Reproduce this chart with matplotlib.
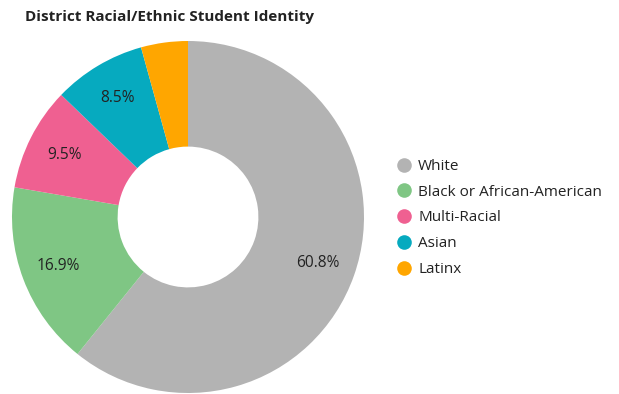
import matplotlib
matplotlib.use("Agg")
import matplotlib.pyplot as plt
from matplotlib.lines import Line2D

plt.rcParams['font.family'] = ['Open Sans', 'DejaVu Sans']

categories = ["White", "Black or African-American", "Multi-Racial", "Asian", "Latinx"]
shares = [60.8, 16.9, 9.5, 8.5, 4.3]
colors = ["#b3b3b3", "#7fc684", "#ef6091", "#06aabf", "#ffa600"]

W, H = 619, 394
fig = plt.figure(figsize=(W / 100, H / 100), dpi=100)

# donut axes: centre (188, 217) px, outer radius 176 px
cx, cy, r = 188, 217, 176
ax = fig.add_axes([(cx - r) / W, (H - cy - r) / H, 2 * r / W, 2 * r / H])


def fmt(p):
    return f"{p:.1f}%" if p >= 5 else ""


wedges, _, autotexts = ax.pie(
    shares, colors=colors, startangle=90, counterclock=False, radius=1.0,
    wedgeprops=dict(width=0.6, linewidth=0), autopct=fmt, pctdistance=0.785,
    textprops=dict(fontsize=11.2, color="#222222"))
ax.set_xlim(-1, 1)
ax.set_ylim(-1, 1)
ax.set_aspect("equal")
ax.axis("off")

fig.text(25 / W, 1 - 17 / H, "District Racial/Ethnic Student Identity",
         fontsize=11, fontweight="bold", color="#222222", va="center", ha="left")

handles = [Line2D([], [], marker="o", linestyle="", markersize=10.5,
                  markerfacecolor=c, markeredgewidth=0) for c in colors]
fig.legend(handles, categories, loc="center left",
           bbox_to_anchor=(389 / W, 1 - 218 / H), frameon=False,
           fontsize=11, handletextpad=0.3, labelspacing=0.7,
           handlelength=1.2, borderaxespad=0, labelcolor="#222222")

fig.savefig("out.png", dpi=100)
